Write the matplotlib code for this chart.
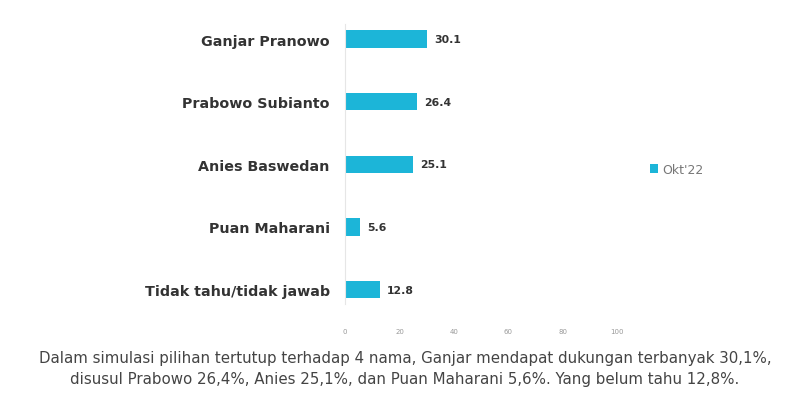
import matplotlib.pyplot as plt

categories = ["Ganjar Pranowo", "Prabowo Subianto", "Anies Baswedan",
              "Puan Maharani", "Tidak tahu/tidak jawab"]
values = [30.1, 26.4, 25.1, 5.6, 12.8]
series_name = "Okt'22"
xticks = [0, 20, 40, 60, 80, 100]
caption = ("Dalam simulasi pilihan tertutup terhadap 4 nama, Ganjar mendapat dukungan terbanyak 30,1%,\n"
           "disusul Prabowo 26,4%, Anies 25,1%, dan Puan Maharani 5,6%. Yang belum tahu 12,8%.")

bar_color = "#1cb5d8"

fig = plt.figure(figsize=(8.1, 4.1), dpi=100)
ax = fig.add_axes([0.426, 0.256, 0.353, 0.683])

y = list(range(len(categories)))
bars = ax.barh(y, values, height=0.28, color=bar_color, label=series_name)
for yi, v in zip(y, values):
    ax.text(v + 2.6, yi, f"{v:.1f}", va="center", ha="left",
            fontsize=7.8, fontweight="bold", color="#333333")

ax.set_ylim(4.23, -0.24)
ax.set_xlim(0, 105)
ax.set_yticks(y)
ax.set_yticklabels(categories, fontsize=10.3, fontweight="bold", color="#333333")
ax.set_xticks(xticks)
ax.set_xticklabels([str(t) for t in xticks], fontsize=5, color="#999999")
ax.tick_params(axis="y", length=0, pad=11)
ax.tick_params(axis="x", length=0, pad=17)

for s in ["top", "right", "bottom"]:
    ax.spines[s].set_visible(False)
ax.spines["left"].set_color("#e6e6e6")
ax.spines["left"].set_linewidth(0.8)

leg = fig.legend(handles=[bars], labels=[series_name], loc="center left",
                 bbox_to_anchor=(0.788, 0.585), frameon=False, fontsize=9,
                 handlelength=0.7, handleheight=0.7, handletextpad=0.3)
for t in leg.get_texts():
    t.set_color("#777777")

fig.text(0.5, 0.1, caption, ha="center", va="center", fontsize=10.8,
         color="#444444", linespacing=1.45)

fig.savefig("out.png", dpi=100)
